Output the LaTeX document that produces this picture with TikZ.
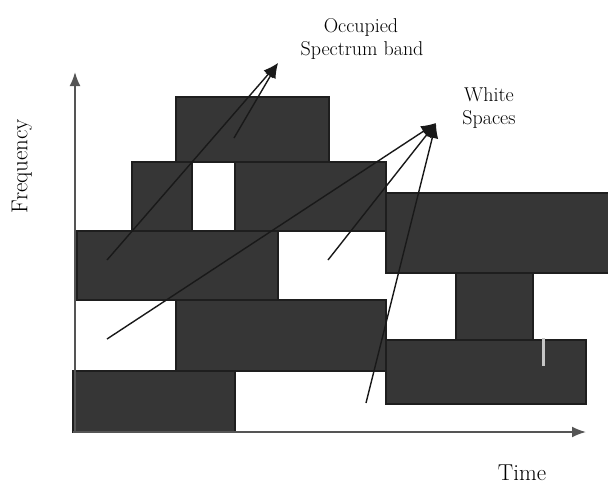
\documentclass[tikz,border=0pt]{standalone}
\usetikzlibrary{arrows.meta}
\definecolor{boxfill}{HTML}{363636}
\definecolor{boxline}{HTML}{1E1E1E}
\definecolor{axisgray}{HTML}{555555}
\tikzset{
  band/.style={fill=boxfill, draw=boxline, line width=1.2pt},
  pointer/.style={draw=black!90, line width=1.4pt, -{Latex[length=15pt,width=12pt]}},
  axisline/.style={draw=axisgray, line width=1.8pt, -{Latex[length=14pt,width=11pt]}},
  lbl/.style={font=\fontsize{20}{24}\selectfont, inner sep=0pt},
  axlbl/.style={font=\fontsize{23}{27}\selectfont, inner sep=0pt}
}
\begin{document}
\begin{tikzpicture}[x=1pt,y=-1pt]
\useasboundingbox (0,0) rectangle (608,485);
% occupied bands
\path[band] (176,97) rectangle (329,162);
\path[band] (132,162) rectangle (192,231);
\path[band] (235,162) rectangle (386,231);
\path[band] (77,231) rectangle (278,300);
\path[band] (386,193) rectangle (612,273);
\path[band] (456,273) rectangle (533,340);
\path[band] (176,300) rectangle (386,371);
\path[band] (73,371) rectangle (235,432);
\path[band] (386,340) rectangle (586,404);
\fill[gray!45] (542,338) rectangle (545,366);
% axes
\coordinate (origin) at (75,432);
\coordinate (ytip) at (75,72);
\coordinate (xtip) at (586,432);
\draw[axisline] (origin) -- (ytip);
\draw[axisline] (73,432) -- (xtip);
% labels
\node[lbl, anchor=base] (occ1) at (361,32) {Occupied};
\node[lbl, anchor=base] (occ2) at (362,55) {Spectrum band};
\node[lbl, anchor=base] (ws1) at (489,101) {White};
\node[lbl, anchor=base] (ws2) at (489,124) {Spaces};
\node[axlbl, anchor=base] (tlbl) at (522,480) {Time};
\node[axlbl, rotate=90] (flbl) at (22,166) {Frequency};
% pointer coordinates
\coordinate (otip) at (278,63);
\coordinate (o1) at (107,260);
\coordinate (o2) at (234,138);
\coordinate (wtip) at (436,123);
\coordinate (w1) at (107,339);
\coordinate (w2) at (328,260);
\coordinate (w3) at (366,403);
\draw[pointer] (o1) -- (otip);
\draw[pointer] (o2) -- (otip);
\draw[pointer] (w1) -- (wtip);
\draw[pointer] (w2) -- (wtip);
\draw[pointer] (w3) -- (wtip);
\end{tikzpicture}
\end{document}
